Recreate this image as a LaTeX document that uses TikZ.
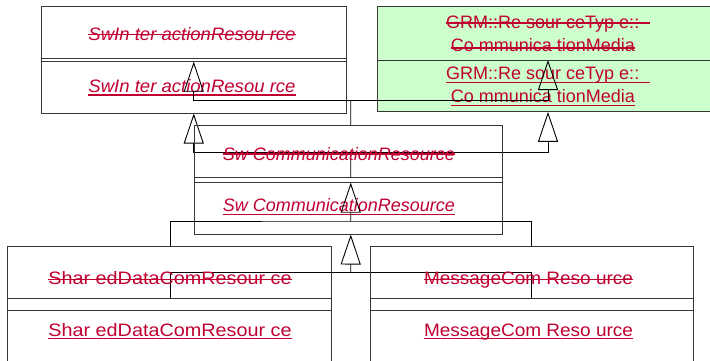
\documentclass[tikz,border=0pt]{standalone}
\usepackage{fontspec}
\usepackage{graphicx}
\newfontfamily\umlfont{Liberation Sans}
\usetikzlibrary{arrows.meta,calc}
\definecolor{umlred}{RGB}{192,0,48}
\definecolor{umlgreen}{RGB}{204,255,204}
\definecolor{boxgray}{RGB}{55,55,55}
\tikzset{
  box/.style={draw=boxgray, line width=1pt, anchor=north west, inner sep=0pt, outer sep=0pt},
  gbox/.style={box, fill=umlgreen},
  txt/.style={text=umlred, font=\umlfont\fontsize{18}{22}\selectfont, inner sep=0pt, anchor=base},
  ittxt/.style={font=\umlfont\itshape\fontsize{18}{22}\selectfont},
  deco/.style={draw=umlred, line width=1.4pt},
  conn/.style={draw=black, line width=0.9pt},
  gen/.style={conn, -{Triangle[open, length=30pt, width=20pt]}},
}
\newif\ifstrk
% name, x, y, extra options, xscale, strike shift, text
\newcommand\dtext[7]{%
  \node[txt,#4] (#1) at (#2,#3) {\scalebox{#5}[1]{#7}};
  \ifstrk
    \draw[deco] ([yshift=#6pt]#1.base west) -- ([yshift=#6pt]#1.base east);
  \else
    \draw[deco] ([yshift=-2.5pt]#1.base west) -- ([yshift=-2.5pt]#1.base east);
  \fi
}
% suffix, vertical offset
\newcommand\drawcopy[2]{%
  \node[gbox, minimum width=342pt, minimum height=53.3pt] (grn#1) at (377,{6.7+#2}) {};
  \node[box, minimum width=305.5pt, minimum height=55pt] (tl#1) at (41,{6.7+#2}) {};
  \node[box, minimum width=307.3pt, minimum height=57pt] (mid#1) at (194.7,{125.7+#2}) {};
  \node[box, minimum width=323.3pt, minimum height=63.7pt] (bl#1) at (7.7,{246.3+#2}) {};
  \node[box, minimum width=322.3pt, minimum height=63.7pt] (br#1) at (370.7,{246.3+#2}) {};
  \dtext{tlt#1}{192}{{40.5+#2}}{ittxt}{1.03}{6}{SwIn ter actionResou rce}
  \dtext{gra#1}{446}{{28+#2}}{anchor=base west}{1}{5}{GRM::Re sour ceTyp e::\hspace{11pt}}
  \dtext{grb#1}{450.7}{{51+#2}}{anchor=base west}{1}{3}{Co mmunica tionMedia}
  \dtext{midt#1}{339}{{160+#2}}{ittxt}{1}{6}{Sw CommunicationResource}
  \dtext{blt#1}{170}{{284.3+#2}}{}{1.10}{5}{Shar edDataComResour ce}
  \dtext{brt#1}{528.5}{{284.3+#2}}{}{1.055}{5}{MessageCom Reso urce}
  \coordinate (ja#1) at (350.7,{100.7+#2});
  \coordinate (jb#1) at (350.7,{221+#2});
  \draw[conn] ([xshift=2.4pt]mid#1.north) -- (ja#1);
  \draw[gen] (ja#1) -| (tl#1.south);
  \draw[gen] (ja#1) -| (grn#1.south);
  \draw[gen] (jb#1) -- ([xshift=2.4pt]mid#1.south);
  \draw[conn] ([xshift=1.4pt]bl#1.north) |- (jb#1) -| (br#1.north);
}
\begin{document}
\begin{tikzpicture}[x=1pt,y=-1pt]
\useasboundingbox (0,0) rectangle (710,360);
\strkfalse
\drawcopy{a}{51.8}
\strktrue
\drawcopy{b}{0}
\end{tikzpicture}
\end{document}
